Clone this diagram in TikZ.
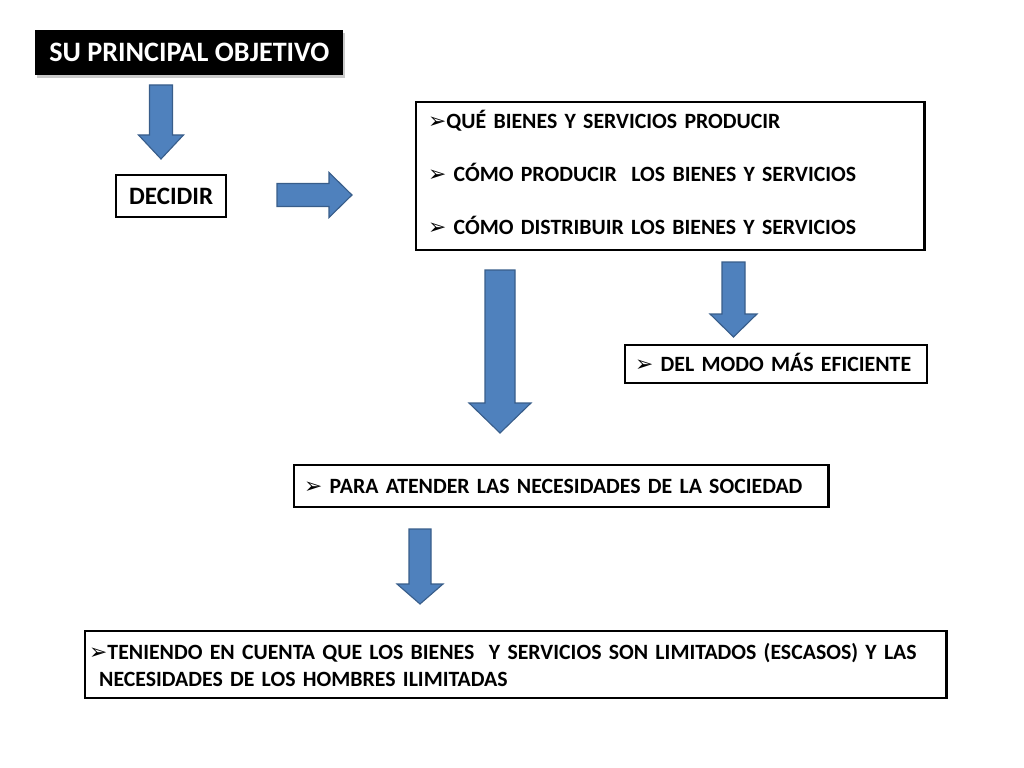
\documentclass[tikz,border=0pt]{standalone}
\usepackage{fontspec}
\setmainfont{Carlito}
\newfontfamily\symfont{DejaVu Sans}
\usetikzlibrary{positioning,shadows}
\definecolor{arrowblue}{HTML}{4F81BD}
\definecolor{arrowedge}{HTML}{385D8A}
\newcommand{\bul}{{\symfont\char"27A2}}
% block arrows: centre, start, neck, tip, half shaft, half head
\newcommand{\blockdown}[6]{%
  \draw[blockarrow] (#1-#5,#2) -- (#1+#5,#2) -- (#1+#5,#3) -- (#1+#6,#3) -- (#1,#4) -- (#1-#6,#3) -- (#1-#5,#3) -- cycle;}
\newcommand{\blockright}[6]{%
  \draw[blockarrow] (#2,#1-#5) -- (#2,#1+#5) -- (#3,#1+#5) -- (#3,#1+#6) -- (#4,#1) -- (#3,#1-#6) -- (#3,#1-#5) -- cycle;}

\tikzset{
  blockarrow/.style={fill=arrowblue, draw=arrowedge, line width=0.8pt, line join=miter},
  textbox/.style={draw, line width=1.7pt, fill=white, anchor=north west, inner ysep=0pt, inner xsep=0.25cm, align=left, font=\bfseries\fontsize{15.5}{18}\selectfont},
}

\begin{document}
\begin{tikzpicture}[x=0.025cm, y=-0.025cm]
	\useasboundingbox (0,0) rectangle (1024,768);
	
	\node [fill=black, text=white, anchor=north west, minimum width=7.7cm, minimum height=1.125cm, inner sep=0pt,
	       drop shadow={shadow xshift=0.04cm, shadow yshift=-0.06cm, fill=gray!70, opacity=0.6},
	       font=\bfseries\fontsize{20}{22}\selectfont] (objetivo) at (35,30) {SU PRINCIPAL OBJETIVO};
	
	\node [textbox, align=center, inner xsep=0pt, minimum width=2.75cm, minimum height=1.05cm, font=\bfseries\fontsize{17.8}{20}\selectfont] (decidir) at (115,174) {DECIDIR};
	
	\node [textbox, text width=12.1cm, minimum height=3.7cm, inner xsep=0.3cm, font=\bfseries\fontsize{15.5}{37.7}\selectfont] (preguntas) at (415,101)
	  {\bul QUÉ BIENES Y SERVICIOS PRODUCIR\\
	   \bul\ CÓMO PRODUCIR\ \ LOS BIENES Y SERVICIOS\\
	   \bul\ CÓMO DISTRIBUIR LOS BIENES Y SERVICIOS\rule[-0.2cm]{0pt}{0.2cm}};
	
	\node [textbox, text width=7.05cm, minimum height=0.95cm] (eficiente) at (624,344) {\bul\ DEL MODO MÁS EFICIENTE\rule[-0.1cm]{0pt}{0.1cm}};
	
	\node [textbox, text width=12.85cm, minimum height=1.05cm] (necesidades) at (293,464) {\bul\ PARA ATENDER LAS NECESIDADES DE LA SOCIEDAD};
	
	\node [textbox, text width=21.325cm, minimum height=1.675cm, inner xsep=0.1cm, font=\bfseries\fontsize{15.5}{19}\selectfont] (escasez) at (84,630)
	  {\bul TENIENDO EN CUENTA QUE LOS BIENES\ \ Y SERVICIOS SON LIMITADOS (ESCASOS) Y LAS\\
	   \hspace{0.25cm}NECESIDADES DE LOS HOMBRES ILIMITADAS};
	
	% arrows
	\blockdown{161}{85}{135}{159}{11.5}{22.5}
	\blockright{195}{277}{329}{352}{11.5}{22.5}
	\blockdown{500}{270}{403}{433}{15}{31}
	\blockdown{733.5}{262}{314}{337}{11.5}{23.5}
	\blockdown{420}{529}{584}{604}{11}{23}
\end{tikzpicture}
\end{document}
